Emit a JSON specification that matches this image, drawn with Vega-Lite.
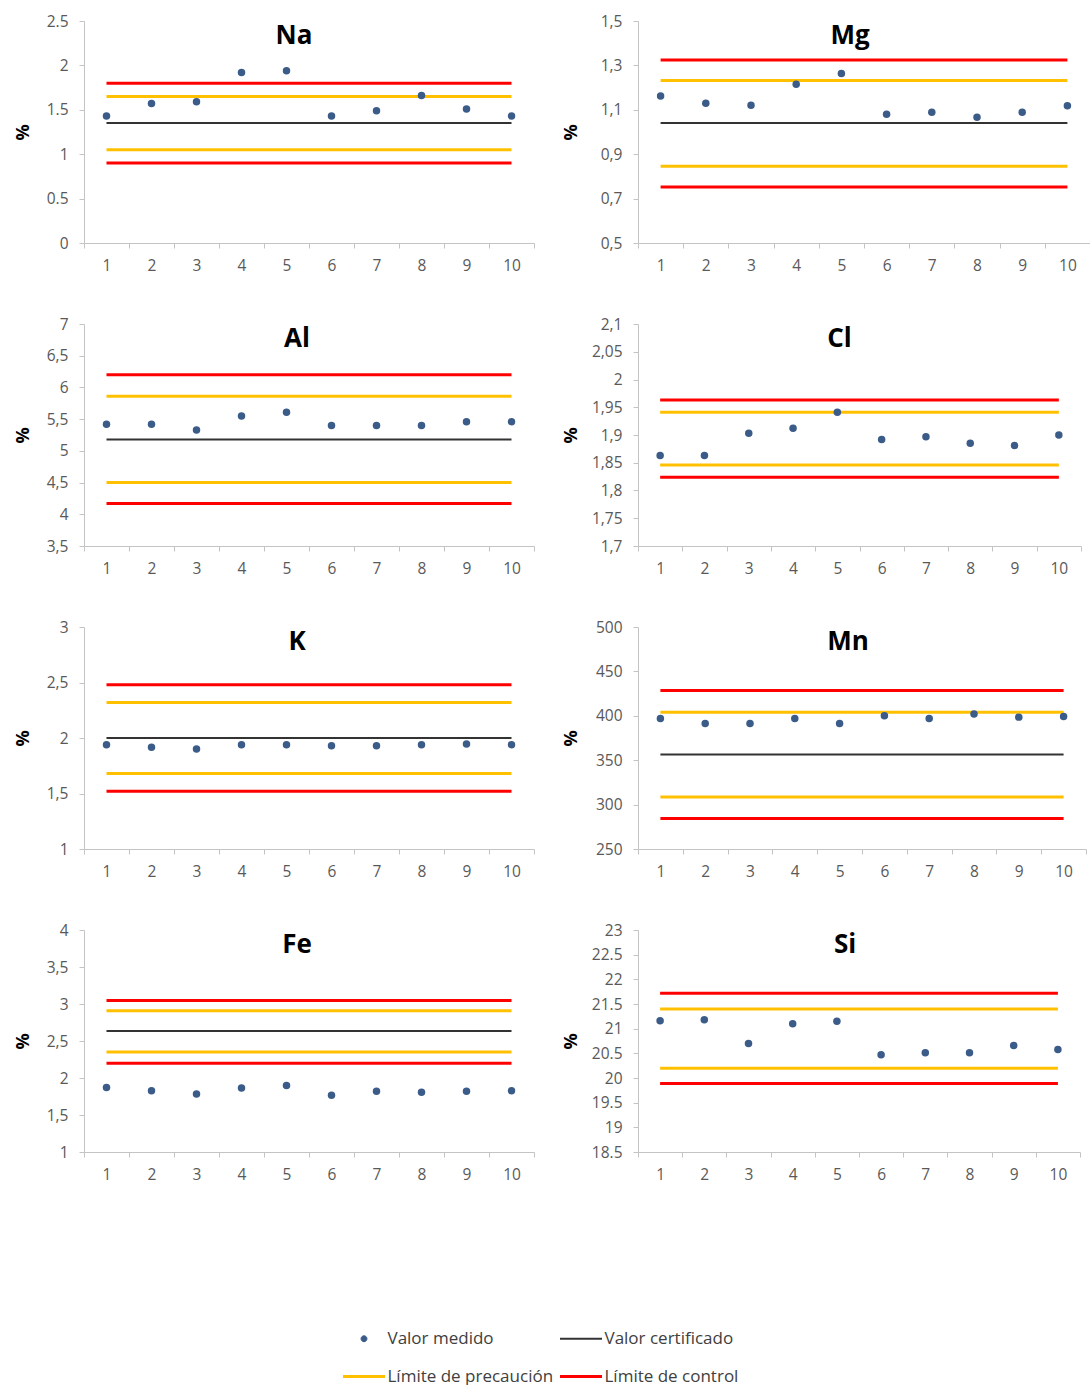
{
  "$schema": "https://vega.github.io/schema/vega-lite/v6.json",
  "background": "white",
  "autosize": {"type": "pad"},
  "padding": {"left": 14, "top": 14, "right": 0, "bottom": 0},
  "config": {
    "view": {"stroke": null},
    "font": "Open Sans",
    "axis": {
      "grid": false,
      "domainColor": "#c4c4c4",
      "tickColor": "#c4c4c4",
      "tickSize": 5,
      "labelColor": "#595959",
      "labelFont": "Open Sans",
      "labelFontSize": 15.5,
      "titleFont": "Open Sans",
      "titleFontSize": 18,
      "titleFontWeight": "bold",
      "titleColor": "#000000"
    },
    "axisX": {"labelAngle": 0, "tickBand": "extent", "labelPadding": 10},
    "axisY": {"labelPadding": 11, "minExtent": 40, "maxExtent": 40, "titlePadding": 12},
    "legend": {"symbolType": "stroke", "symbolSize": 1764, "symbolStrokeWidth": 3},
    "title": {
      "font": "Open Sans",
      "fontSize": 26,
      "fontWeight": "bold",
      "color": "#000000",
      "anchor": "middle",
      "baseline": "alphabetic",
      "offset": -35,
      "dx": -13
    }
  },
  "datasets": {
    "medidas": [
      {"elemento": "Na", "n": 1, "valor": 1.43}, {"elemento": "Na", "n": 2, "valor": 1.57},
      {"elemento": "Na", "n": 3, "valor": 1.59}, {"elemento": "Na", "n": 4, "valor": 1.92},
      {"elemento": "Na", "n": 5, "valor": 1.94}, {"elemento": "Na", "n": 6, "valor": 1.43},
      {"elemento": "Na", "n": 7, "valor": 1.49}, {"elemento": "Na", "n": 8, "valor": 1.66},
      {"elemento": "Na", "n": 9, "valor": 1.51}, {"elemento": "Na", "n": 10, "valor": 1.43},
      {"elemento": "Mg", "n": 1, "valor": 1.162}, {"elemento": "Mg", "n": 2, "valor": 1.129},
      {"elemento": "Mg", "n": 3, "valor": 1.121}, {"elemento": "Mg", "n": 4, "valor": 1.215},
      {"elemento": "Mg", "n": 5, "valor": 1.263}, {"elemento": "Mg", "n": 6, "valor": 1.08},
      {"elemento": "Mg", "n": 7, "valor": 1.089}, {"elemento": "Mg", "n": 8, "valor": 1.066},
      {"elemento": "Mg", "n": 9, "valor": 1.089}, {"elemento": "Mg", "n": 10, "valor": 1.118},
      {"elemento": "Al", "n": 1, "valor": 5.42}, {"elemento": "Al", "n": 2, "valor": 5.42},
      {"elemento": "Al", "n": 3, "valor": 5.33}, {"elemento": "Al", "n": 4, "valor": 5.55},
      {"elemento": "Al", "n": 5, "valor": 5.61}, {"elemento": "Al", "n": 6, "valor": 5.4},
      {"elemento": "Al", "n": 7, "valor": 5.4}, {"elemento": "Al", "n": 8, "valor": 5.4},
      {"elemento": "Al", "n": 9, "valor": 5.46}, {"elemento": "Al", "n": 10, "valor": 5.46},
      {"elemento": "Cl", "n": 1, "valor": 1.863}, {"elemento": "Cl", "n": 2, "valor": 1.863},
      {"elemento": "Cl", "n": 3, "valor": 1.903}, {"elemento": "Cl", "n": 4, "valor": 1.912},
      {"elemento": "Cl", "n": 5, "valor": 1.941}, {"elemento": "Cl", "n": 6, "valor": 1.892},
      {"elemento": "Cl", "n": 7, "valor": 1.897}, {"elemento": "Cl", "n": 8, "valor": 1.885},
      {"elemento": "Cl", "n": 9, "valor": 1.881}, {"elemento": "Cl", "n": 10, "valor": 1.9},
      {"elemento": "K", "n": 1, "valor": 1.94}, {"elemento": "K", "n": 2, "valor": 1.916},
      {"elemento": "K", "n": 3, "valor": 1.901}, {"elemento": "K", "n": 4, "valor": 1.94},
      {"elemento": "K", "n": 5, "valor": 1.94}, {"elemento": "K", "n": 6, "valor": 1.931},
      {"elemento": "K", "n": 7, "valor": 1.931}, {"elemento": "K", "n": 8, "valor": 1.94},
      {"elemento": "K", "n": 9, "valor": 1.946}, {"elemento": "K", "n": 10, "valor": 1.94},
      {"elemento": "Mn", "n": 1, "valor": 397}, {"elemento": "Mn", "n": 2, "valor": 391.4},
      {"elemento": "Mn", "n": 3, "valor": 391.4}, {"elemento": "Mn", "n": 4, "valor": 397},
      {"elemento": "Mn", "n": 5, "valor": 391.4}, {"elemento": "Mn", "n": 6, "valor": 400},
      {"elemento": "Mn", "n": 7, "valor": 397}, {"elemento": "Mn", "n": 8, "valor": 401.9},
      {"elemento": "Mn", "n": 9, "valor": 398.5}, {"elemento": "Mn", "n": 10, "valor": 399.3},
      {"elemento": "Fe", "n": 1, "valor": 1.873}, {"elemento": "Fe", "n": 2, "valor": 1.828},
      {"elemento": "Fe", "n": 3, "valor": 1.784}, {"elemento": "Fe", "n": 4, "valor": 1.864},
      {"elemento": "Fe", "n": 5, "valor": 1.9}, {"elemento": "Fe", "n": 6, "valor": 1.766},
      {"elemento": "Fe", "n": 7, "valor": 1.82}, {"elemento": "Fe", "n": 8, "valor": 1.806},
      {"elemento": "Fe", "n": 9, "valor": 1.82}, {"elemento": "Fe", "n": 10, "valor": 1.828},
      {"elemento": "Si", "n": 1, "valor": 21.16}, {"elemento": "Si", "n": 2, "valor": 21.18},
      {"elemento": "Si", "n": 3, "valor": 20.7}, {"elemento": "Si", "n": 4, "valor": 21.1},
      {"elemento": "Si", "n": 5, "valor": 21.15}, {"elemento": "Si", "n": 6, "valor": 20.47},
      {"elemento": "Si", "n": 7, "valor": 20.51}, {"elemento": "Si", "n": 8, "valor": 20.51},
      {"elemento": "Si", "n": 9, "valor": 20.66}, {"elemento": "Si", "n": 10, "valor": 20.58}
    ],
    "limites": [
      {"elemento": "Na", "serie": "Límite de control", "valor": 1.8},
      {"elemento": "Na", "serie": "Límite de precaución", "valor": 1.65},
      {"elemento": "Na", "serie": "Valor certificado", "valor": 1.35},
      {"elemento": "Na", "serie": "Límite de precaución", "valor": 1.05},
      {"elemento": "Na", "serie": "Límite de control", "valor": 0.9},
      {"elemento": "Mg", "serie": "Límite de control", "valor": 1.324},
      {"elemento": "Mg", "serie": "Límite de precaución", "valor": 1.232},
      {"elemento": "Mg", "serie": "Valor certificado", "valor": 1.04},
      {"elemento": "Mg", "serie": "Límite de precaución", "valor": 0.846},
      {"elemento": "Mg", "serie": "Límite de control", "valor": 0.752},
      {"elemento": "Al", "serie": "Límite de control", "valor": 6.2},
      {"elemento": "Al", "serie": "Límite de precaución", "valor": 5.86},
      {"elemento": "Al", "serie": "Valor certificado", "valor": 5.18},
      {"elemento": "Al", "serie": "Límite de precaución", "valor": 4.5},
      {"elemento": "Al", "serie": "Límite de control", "valor": 4.17},
      {"elemento": "Cl", "serie": "Límite de control", "valor": 1.963},
      {"elemento": "Cl", "serie": "Límite de precaución", "valor": 1.941},
      {"elemento": "Cl", "serie": "Límite de precaución", "valor": 1.846},
      {"elemento": "Cl", "serie": "Límite de control", "valor": 1.824},
      {"elemento": "K", "serie": "Límite de control", "valor": 2.48},
      {"elemento": "K", "serie": "Límite de precaución", "valor": 2.32},
      {"elemento": "K", "serie": "Valor certificado", "valor": 2.0},
      {"elemento": "K", "serie": "Límite de precaución", "valor": 1.68},
      {"elemento": "K", "serie": "Límite de control", "valor": 1.52},
      {"elemento": "Mn", "serie": "Límite de control", "valor": 428.4},
      {"elemento": "Mn", "serie": "Límite de precaución", "valor": 404.1},
      {"elemento": "Mn", "serie": "Valor certificado", "valor": 356.3},
      {"elemento": "Mn", "serie": "Límite de precaución", "valor": 308.6},
      {"elemento": "Mn", "serie": "Límite de control", "valor": 284.3},
      {"elemento": "Fe", "serie": "Límite de control", "valor": 3.047},
      {"elemento": "Fe", "serie": "Límite de precaución", "valor": 2.91},
      {"elemento": "Fe", "serie": "Valor certificado", "valor": 2.635},
      {"elemento": "Fe", "serie": "Límite de precaución", "valor": 2.35},
      {"elemento": "Fe", "serie": "Límite de control", "valor": 2.2},
      {"elemento": "Si", "serie": "Límite de control", "valor": 21.72},
      {"elemento": "Si", "serie": "Límite de precaución", "valor": 21.4},
      {"elemento": "Si", "serie": "Límite de precaución", "valor": 20.2},
      {"elemento": "Si", "serie": "Límite de control", "valor": 19.89}
    ]
  },
  "columns": 2,
  "spacing": {"row": 81, "column": 104},
  "bounds": "flush",
  "resolve": {"scale": {"x": "independent", "y": "independent", "color": "shared"}},
  "concat": [
    {
      "title": {"text": "Na", "dx": -15},
      "width": 450, "height": 222,
      "encoding": {
        "x": {"field": "n", "type": "ordinal", "scale": {"domain": [1, 2, 3, 4, 5, 6, 7, 8, 9, 10]}, "axis": {"title": null}},
        "y": {"field": "valor", "type": "quantitative", "scale": {"domain": [0, 2.5], "nice": false, "zero": false},
              "axis": {"title": "%", "values": [0, 0.5, 1, 1.5, 2, 2.5], "labelExpr": "format(datum.value, '~g')"}}
      },
      "layer": [
        {"data": {"name": "limites"}, "transform": [{"filter": "datum.elemento === 'Na' && datum.serie !== 'Valor certificado'"}],
         "mark": {"type": "rule", "strokeWidth": 3},
         "encoding": {"x": {"datum": 1, "type": "ordinal", "bandPosition": 0.5, "title": null}, "x2": {"datum": 10},
           "color": {"field": "serie", "type": "nominal", "title": null,
             "scale": {"domain": ["Valor medido", "Valor certificado", "Límite de precaución", "Límite de control"],
                       "range": ["#3b5b88", "#333333", "#ffc000", "#ff0000"]},
             "legend": {
               "title": null, "orient": "none", "legendX": 259, "legendY": 1309,
               "columns": 2, "direction": "horizontal",
               "symbolType": "stroke", "symbolSize": 1764, "symbolStrokeWidth": 3, "symbolOffset": 12.5,
               "labelFont": "Open Sans", "labelFontSize": 17, "labelColor": "#404040", "labelOffset": 15, "labelLimit": 300,
               "rowPadding": 20, "columnPadding": 0,
               "encode": {"symbols": {
                 "update": {
                   "shape": {"signal": "datum.value === 'Valor medido' ? 'M -0.14 0 A 0.14 0.14 0 1 1 0.14 0 A 0.14 0.14 0 1 1 -0.14 0 Z' : 'stroke'"},
                   "size": {"value": 1764},
                   "strokeWidth": {"signal": "datum.value === 'Valor medido' ? 1 : (datum.value === 'Valor certificado' ? 2 : 3)"},
                   "fill": {"scale": "color", "field": "value"},
                   "stroke": {"scale": "color", "field": "value"},
                   "opacity": {"value": 1}
                 }
               }}
             }}}},
        {"data": {"name": "limites"}, "transform": [{"filter": "datum.elemento === 'Na' && datum.serie === 'Valor certificado'"}],
         "mark": {"type": "rule", "strokeWidth": 2},
         "encoding": {"x": {"datum": 1, "type": "ordinal", "bandPosition": 0.5, "title": null}, "x2": {"datum": 10}, "color": {"field": "serie", "type": "nominal", "title": null}}},
        {"data": {"name": "medidas"}, "transform": [{"filter": "datum.elemento === 'Na'"}],
         "mark": {"type": "point", "shape": "circle", "filled": true, "size": 56, "opacity": 1},
         "encoding": {"color": {"datum": "Valor medido", "type": "nominal", "title": null}}}
      ]
    },
    {
      "title": {"text": "Mg", "dx": -14},
      "width": 452, "height": 222,
      "encoding": {
        "x": {"field": "n", "type": "ordinal", "scale": {"domain": [1, 2, 3, 4, 5, 6, 7, 8, 9, 10]}, "axis": {"title": null}},
        "y": {"field": "valor", "type": "quantitative", "scale": {"domain": [0.5, 1.5], "nice": false, "zero": false},
              "axis": {"title": "%", "titlePadding": 18, "values": [0.5, 0.7, 0.9, 1.1, 1.3, 1.5], "labelExpr": "replace(format(datum.value, '~g'), '.', ',')"}}
      },
      "layer": [
        {"data": {"name": "limites"}, "transform": [{"filter": "datum.elemento === 'Mg' && datum.serie !== 'Valor certificado'"}],
         "mark": {"type": "rule", "strokeWidth": 3},
         "encoding": {"x": {"datum": 1, "type": "ordinal", "bandPosition": 0.5, "title": null}, "x2": {"datum": 10}, "color": {"field": "serie", "type": "nominal", "title": null}}},
        {"data": {"name": "limites"}, "transform": [{"filter": "datum.elemento === 'Mg' && datum.serie === 'Valor certificado'"}],
         "mark": {"type": "rule", "strokeWidth": 2},
         "encoding": {"x": {"datum": 1, "type": "ordinal", "bandPosition": 0.5, "title": null}, "x2": {"datum": 10}, "color": {"field": "serie", "type": "nominal", "title": null}}},
        {"data": {"name": "medidas"}, "transform": [{"filter": "datum.elemento === 'Mg'"}],
         "mark": {"type": "point", "shape": "circle", "filled": true, "size": 56, "opacity": 1},
         "encoding": {"color": {"datum": "Valor medido", "type": "nominal", "title": null}}}
      ]
    },
    {
      "title": {"text": "Al", "dx": -12},
      "width": 450, "height": 222,
      "encoding": {
        "x": {"field": "n", "type": "ordinal", "scale": {"domain": [1, 2, 3, 4, 5, 6, 7, 8, 9, 10]}, "axis": {"title": null}},
        "y": {"field": "valor", "type": "quantitative", "scale": {"domain": [3.5, 7], "nice": false, "zero": false},
              "axis": {"title": "%", "values": [3.5, 4, 4.5, 5, 5.5, 6, 6.5, 7], "labelExpr": "replace(format(datum.value, '~g'), '.', ',')"}}
      },
      "layer": [
        {"data": {"name": "limites"}, "transform": [{"filter": "datum.elemento === 'Al' && datum.serie !== 'Valor certificado'"}],
         "mark": {"type": "rule", "strokeWidth": 3},
         "encoding": {"x": {"datum": 1, "type": "ordinal", "bandPosition": 0.5, "title": null}, "x2": {"datum": 10}, "color": {"field": "serie", "type": "nominal", "title": null}}},
        {"data": {"name": "limites"}, "transform": [{"filter": "datum.elemento === 'Al' && datum.serie === 'Valor certificado'"}],
         "mark": {"type": "rule", "strokeWidth": 2},
         "encoding": {"x": {"datum": 1, "type": "ordinal", "bandPosition": 0.5, "title": null}, "x2": {"datum": 10}, "color": {"field": "serie", "type": "nominal", "title": null}}},
        {"data": {"name": "medidas"}, "transform": [{"filter": "datum.elemento === 'Al'"}],
         "mark": {"type": "point", "shape": "circle", "filled": true, "size": 56, "opacity": 1},
         "encoding": {"color": {"datum": "Valor medido", "type": "nominal", "title": null}}}
      ]
    },
    {
      "title": {"text": "Cl", "dx": -20},
      "width": 443, "height": 222,
      "encoding": {
        "x": {"field": "n", "type": "ordinal", "scale": {"domain": [1, 2, 3, 4, 5, 6, 7, 8, 9, 10]}, "axis": {"title": null}},
        "y": {"field": "valor", "type": "quantitative", "scale": {"domain": [1.7, 2.1], "nice": false, "zero": false},
              "axis": {"title": "%", "titlePadding": 18, "values": [1.7, 1.75, 1.8, 1.85, 1.9, 1.95, 2, 2.05, 2.1], "labelExpr": "replace(format(datum.value, '~g'), '.', ',')"}}
      },
      "layer": [
        {"data": {"name": "limites"}, "transform": [{"filter": "datum.elemento === 'Cl' && datum.serie !== 'Valor certificado'"}],
         "mark": {"type": "rule", "strokeWidth": 3},
         "encoding": {"x": {"datum": 1, "type": "ordinal", "bandPosition": 0.5, "title": null}, "x2": {"datum": 10}, "color": {"field": "serie", "type": "nominal", "title": null}}},
        {"data": {"name": "medidas"}, "transform": [{"filter": "datum.elemento === 'Cl'"}],
         "mark": {"type": "point", "shape": "circle", "filled": true, "size": 56, "opacity": 1},
         "encoding": {"color": {"datum": "Valor medido", "type": "nominal", "title": null}}}
      ]
    },
    {
      "title": {"text": "K", "dx": -12},
      "width": 450, "height": 222,
      "encoding": {
        "x": {"field": "n", "type": "ordinal", "scale": {"domain": [1, 2, 3, 4, 5, 6, 7, 8, 9, 10]}, "axis": {"title": null}},
        "y": {"field": "valor", "type": "quantitative", "scale": {"domain": [1, 3], "nice": false, "zero": false},
              "axis": {"title": "%", "values": [1, 1.5, 2, 2.5, 3], "labelExpr": "replace(format(datum.value, '~g'), '.', ',')"}}
      },
      "layer": [
        {"data": {"name": "limites"}, "transform": [{"filter": "datum.elemento === 'K' && datum.serie !== 'Valor certificado'"}],
         "mark": {"type": "rule", "strokeWidth": 3},
         "encoding": {"x": {"datum": 1, "type": "ordinal", "bandPosition": 0.5, "title": null}, "x2": {"datum": 10}, "color": {"field": "serie", "type": "nominal", "title": null}}},
        {"data": {"name": "limites"}, "transform": [{"filter": "datum.elemento === 'K' && datum.serie === 'Valor certificado'"}],
         "mark": {"type": "rule", "strokeWidth": 2},
         "encoding": {"x": {"datum": 1, "type": "ordinal", "bandPosition": 0.5, "title": null}, "x2": {"datum": 10}, "color": {"field": "serie", "type": "nominal", "title": null}}},
        {"data": {"name": "medidas"}, "transform": [{"filter": "datum.elemento === 'K'"}],
         "mark": {"type": "point", "shape": "circle", "filled": true, "size": 56, "opacity": 1},
         "encoding": {"color": {"datum": "Valor medido", "type": "nominal", "title": null}}}
      ]
    },
    {
      "title": {"text": "Mn", "dx": -14},
      "width": 448, "height": 222,
      "encoding": {
        "x": {"field": "n", "type": "ordinal", "scale": {"domain": [1, 2, 3, 4, 5, 6, 7, 8, 9, 10]}, "axis": {"title": null}},
        "y": {"field": "valor", "type": "quantitative", "scale": {"domain": [250, 500], "nice": false, "zero": false},
              "axis": {"title": "%", "titlePadding": 18, "values": [250, 300, 350, 400, 450, 500], "labelExpr": "format(datum.value, '~g')"}}
      },
      "layer": [
        {"data": {"name": "limites"}, "transform": [{"filter": "datum.elemento === 'Mn' && datum.serie !== 'Valor certificado'"}],
         "mark": {"type": "rule", "strokeWidth": 3},
         "encoding": {"x": {"datum": 1, "type": "ordinal", "bandPosition": 0.5, "title": null}, "x2": {"datum": 10}, "color": {"field": "serie", "type": "nominal", "title": null}}},
        {"data": {"name": "limites"}, "transform": [{"filter": "datum.elemento === 'Mn' && datum.serie === 'Valor certificado'"}],
         "mark": {"type": "rule", "strokeWidth": 2},
         "encoding": {"x": {"datum": 1, "type": "ordinal", "bandPosition": 0.5, "title": null}, "x2": {"datum": 10}, "color": {"field": "serie", "type": "nominal", "title": null}}},
        {"data": {"name": "medidas"}, "transform": [{"filter": "datum.elemento === 'Mn'"}],
         "mark": {"type": "point", "shape": "circle", "filled": true, "size": 56, "opacity": 1},
         "encoding": {"color": {"datum": "Valor medido", "type": "nominal", "title": null}}}
      ]
    },
    {
      "title": {"text": "Fe", "dx": -12},
      "width": 450, "height": 222,
      "encoding": {
        "x": {"field": "n", "type": "ordinal", "scale": {"domain": [1, 2, 3, 4, 5, 6, 7, 8, 9, 10]}, "axis": {"title": null}},
        "y": {"field": "valor", "type": "quantitative", "scale": {"domain": [1, 4], "nice": false, "zero": false},
              "axis": {"title": "%", "values": [1, 1.5, 2, 2.5, 3, 3.5, 4], "labelExpr": "replace(format(datum.value, '~g'), '.', ',')"}}
      },
      "layer": [
        {"data": {"name": "limites"}, "transform": [{"filter": "datum.elemento === 'Fe' && datum.serie !== 'Valor certificado'"}],
         "mark": {"type": "rule", "strokeWidth": 3},
         "encoding": {"x": {"datum": 1, "type": "ordinal", "bandPosition": 0.5, "title": null}, "x2": {"datum": 10}, "color": {"field": "serie", "type": "nominal", "title": null}}},
        {"data": {"name": "limites"}, "transform": [{"filter": "datum.elemento === 'Fe' && datum.serie === 'Valor certificado'"}],
         "mark": {"type": "rule", "strokeWidth": 2},
         "encoding": {"x": {"datum": 1, "type": "ordinal", "bandPosition": 0.5, "title": null}, "x2": {"datum": 10}, "color": {"field": "serie", "type": "nominal", "title": null}}},
        {"data": {"name": "medidas"}, "transform": [{"filter": "datum.elemento === 'Fe'"}],
         "mark": {"type": "point", "shape": "circle", "filled": true, "size": 56, "opacity": 1},
         "encoding": {"color": {"datum": "Valor medido", "type": "nominal", "title": null}}}
      ]
    },
    {
      "title": {"text": "Si", "dx": -14},
      "width": 442, "height": 222,
      "encoding": {
        "x": {"field": "n", "type": "ordinal", "scale": {"domain": [1, 2, 3, 4, 5, 6, 7, 8, 9, 10]}, "axis": {"title": null}},
        "y": {"field": "valor", "type": "quantitative", "scale": {"domain": [18.5, 23], "nice": false, "zero": false},
              "axis": {"title": "%", "titlePadding": 18, "values": [18.5, 19, 19.5, 20, 20.5, 21, 21.5, 22, 22.5, 23], "labelExpr": "format(datum.value, '~g')"}}
      },
      "layer": [
        {"data": {"name": "limites"}, "transform": [{"filter": "datum.elemento === 'Si' && datum.serie !== 'Valor certificado'"}],
         "mark": {"type": "rule", "strokeWidth": 3},
         "encoding": {"x": {"datum": 1, "type": "ordinal", "bandPosition": 0.5, "title": null}, "x2": {"datum": 10}, "color": {"field": "serie", "type": "nominal", "title": null}}},
        {"data": {"name": "medidas"}, "transform": [{"filter": "datum.elemento === 'Si'"}],
         "mark": {"type": "point", "shape": "circle", "filled": true, "size": 56, "opacity": 1},
         "encoding": {"color": {"datum": "Valor medido", "type": "nominal", "title": null}}}
      ]
    }
  ]
}
